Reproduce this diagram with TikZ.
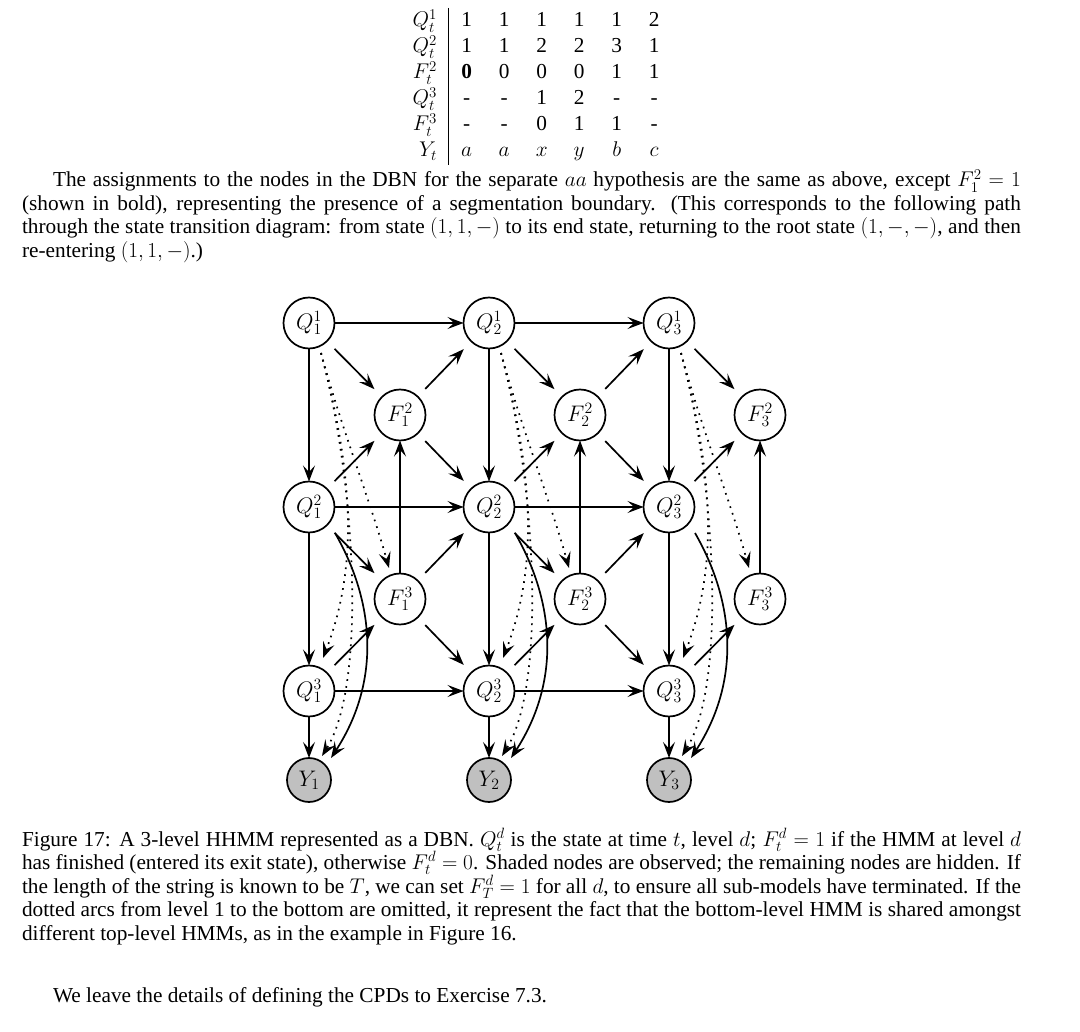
\RequirePackage{fix-cm}
\documentclass[tikz,border=0pt]{standalone}
\usepackage{fontspec}
\setmainfont{Liberation Serif}
\usetikzlibrary{arrows.meta,calc}
\definecolor{obsgray}{RGB}{192,192,192}
\thickmuskip=5mu plus 2mu
\medmuskip=4mu plus 1mu
\tikzset{
  st/.style={circle, draw, line width=1.7pt, minimum size=51pt, inner sep=0pt, outer sep=0pt, font=\fontsize{22.5}{26}\selectfont},
  obs/.style={st, minimum size=44pt, fill=obsgray},
  arr/.style={line width=1.7pt, -{Stealth[length=16pt,width=12pt,inset=6.5pt]}},
  diag/.style={arr, shorten <=10.8pt, shorten >=10.8pt},
  dotarc/.style={arr, dash pattern=on 1.7pt off 5.3pt},
  txt/.style={anchor=base west, inner sep=0pt, outer sep=0pt, font=\fontsize{21.3}{23.5}\selectfont},
  tab/.style={inner sep=0pt, outer sep=0pt, font=\fontsize{21.3}{23.5}\selectfont},
}
\begin{document}
\begin{tikzpicture}[x=1pt,y=-1pt]
\useasboundingbox (0,0) rectangle (1080,1032);
\fill[white] (0,0) rectangle (1080,1032);

% ---------- table ----------
\foreach \lab [count=\r] in {Q^1_t,Q^2_t,F^2_t,Q^3_t,F^3_t,Y_t}
  \node[tab, anchor=base east] (L\r) at (437,{1+26*\r}) {$\lab$};
\foreach \row [count=\r] in {{1,1,1,1,1,2},{1,1,2,2,3,1},{\textbf{0},0,0,0,1,1},{-,-,1,2,-,-},{-,-,0,1,1,-},{$a$,$a$,$x$,$y$,$b$,$c$}}
  \foreach \v [count=\c] in \row
    \node[tab, anchor=base] (c\r\c) at ({429.2+37.5*\c},{1+26*\r}) {\v};
\coordinate (rt) at (448,8);
\coordinate (rb) at (448,165);
\draw[line width=1pt] (rt) -- (rb);

% ---------- paragraph ----------
\node[txt] (p1) at (53,187) {\hbox to 968pt{The assignments to the nodes in the DBN for the separate $aa$ hypothesis are the same as above, except $F^2_1 = 1$}};
\node[txt] (p2) at (22,210.5) {\hbox to 999pt{(shown in bold), representing the presence of a segmentation boundary. (This corresponds to the following path}};
\node[txt] (p3) at (22,234) {\hbox to 999pt{through the state transition diagram: from state $(1,1,-)$ to its end state, returning to the root state $(1,-,-)$, and then}};
\node[txt] (p4) at (22,257.5) {re-entering $(1,1,-)$.)};

% ---------- DBN nodes ----------
\foreach \t/\xq in {1/309,2/489,3/669}{
  \node[st] (Q1\t) at (\xq,323) {$Q^1_\t$};
  \node[st] (F2\t) at ({\xq+91},415) {$F^2_\t$};
  \node[st] (Q2\t) at (\xq,507) {$Q^2_\t$};
  \node[st] (F3\t) at ({\xq+91},599) {$F^3_\t$};
  \node[st] (Q3\t) at (\xq,691) {$Q^3_\t$};
  \node[obs] (Y\t) at (\xq,780) {$Y_\t$};
}

% ---------- edges within a slice ----------
\foreach \t in {1,2,3}{
  \draw[dotarc] ($(Q1\t)+(12,30)$) .. controls ($(Q1\t)+(33,107)$) and ($(F3\t)+(-30,-99)$) .. ($(F3\t)+(-11,-31)$);
  \draw[dotarc] ($(Q1\t)+(12,30)$) .. controls ($(Q1\t)+(46,157)$) and ($(Q3\t)+(48,-121)$) .. ($(Q3\t)+(14,-33)$);
  \draw[dotarc] ($(Q1\t)+(12,30)$) .. controls ($(Q1\t)+(44,147)$) and ($(Y\t)+(60,-100)$) .. ($(Y\t)+(13,-24)$);
  \draw[arr] ($(Q2\t)+(26,26)$) .. controls ($(Q2\t)+(69,101)$) and ($(Y\t)+(69,-94)$) .. ($(Y\t)+(22,-22)$);
  \draw[arr] (Q1\t) -- (Q2\t);
  \draw[arr] (Q2\t) -- (Q3\t);
  \draw[arr] (Q3\t) -- (Y\t);
  \draw[arr] (F3\t) -- (F2\t);
  \draw[diag] (Q1\t) -- (F2\t);
  \draw[diag] (Q2\t) -- (F2\t);
  \draw[diag] (Q3\t) -- (F3\t);
}
\foreach \t in {1,2}{
  \draw[diag] (Q2\t) -- (F3\t);
}

% ---------- edges between slices ----------
\foreach \t/\n in {1/2,2/3}{
  \draw[arr] (Q1\t) -- (Q1\n);
  \draw[arr] (Q2\t) -- (Q2\n);
  \draw[arr] (Q3\t) -- (Q3\n);
  \draw[diag] (F2\t) -- (Q1\n);
  \draw[diag] (F2\t) -- (Q2\n);
  \draw[diag] (F3\t) -- (Q2\n);
  \draw[diag] (F3\t) -- (Q3\n);
}

% ---------- caption ----------
\node[txt] (c1) at (22,846) {\hbox to 999pt{Figure 17: A 3-level HHMM represented as a DBN. $Q^d_t$ is the state at time $t$, level $d$; $F^d_t = 1$ if the HMM at level $d$}};
\node[txt] (c2) at (22,869.5) {\hbox to 999pt{has finished (entered its exit state), otherwise $F^d_t = 0$. Shaded nodes are observed; the remaining nodes are hidden. If}};
\node[txt] (c3) at (22,893) {\hbox to 999pt{the length of the string is known to be $T$, we can set $F^d_T = 1$ for all $d$, to ensure all sub-models have terminated. If the}};
\node[txt] (c4) at (22,916.5) {\hbox to 999pt{dotted arcs from level 1 to the bottom are omitted, it represent the fact that the bottom-level HMM is shared amongst}};
\node[txt] (c5) at (22,940) {different top-level HMMs, as in the example in Figure 16.};
\node[txt] (w1) at (53,1002) {We leave the details of defining the CPDs to Exercise 7.3.};
\end{tikzpicture}
\end{document}
